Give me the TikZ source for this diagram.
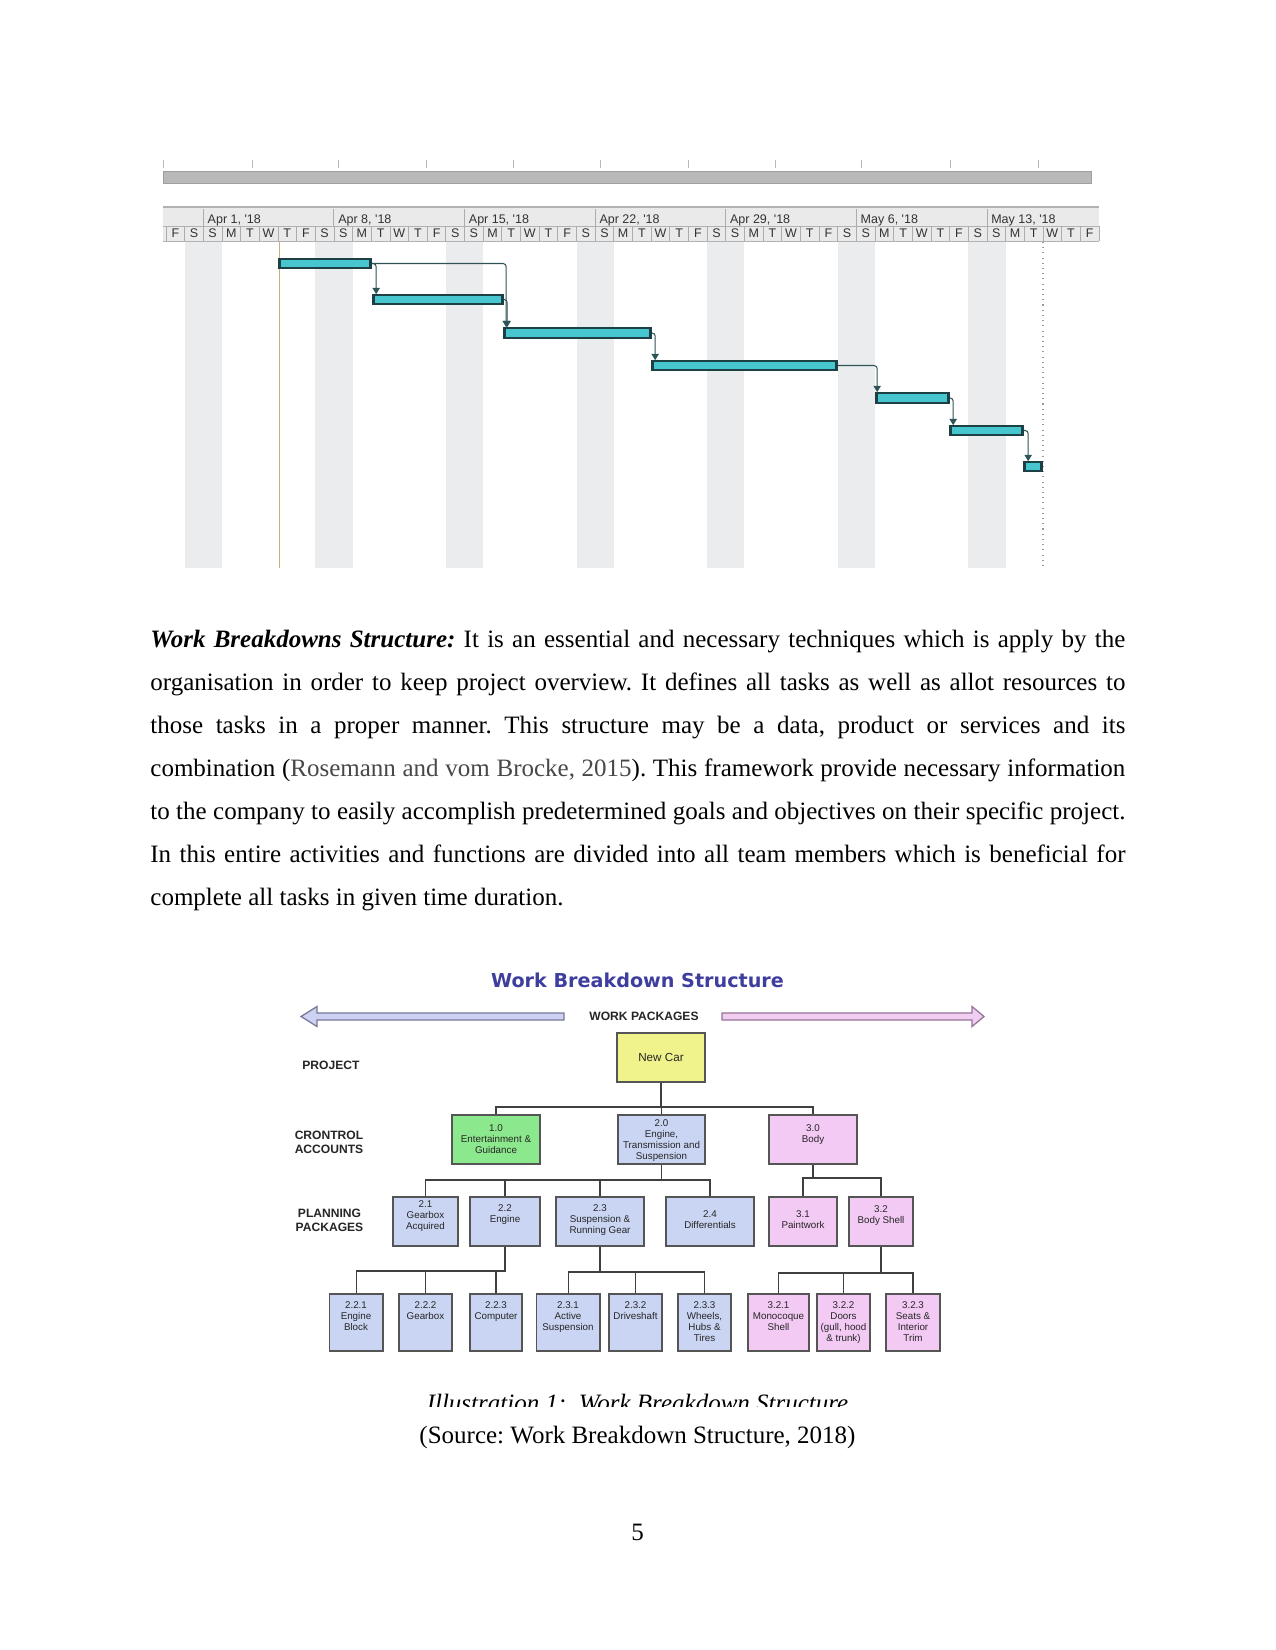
\documentclass[tikz,border=0pt]{standalone}
\usepackage{fontspec}
\setmainfont{Liberation Serif}
\newfontfamily\arialf{Liberation Sans}
\newfontfamily\verdf{DejaVu Sans}
\usetikzlibrary{fit,calc,arrows.meta}
\definecolor{barc}{RGB}{72,198,208}
\definecolor{bard}{RGB}{28,64,68}
\definecolor{gconnc}{RGB}{45,85,88}
\definecolor{stripec}{RGB}{234,236,238}
\definecolor{hdrc}{RGB}{234,234,234}
\definecolor{tanc}{RGB}{200,175,125}
\definecolor{titlec}{RGB}{62,62,158}
\definecolor{carc}{RGB}{240,243,140}
\definecolor{greenc}{RGB}{140,232,140}
\definecolor{bluec}{RGB}{201,213,242}
\definecolor{pinkc}{RGB}{242,202,244}
\definecolor{boxd}{RGB}{85,85,85}
\definecolor{lavc}{RGB}{205,210,242}
\definecolor{lavd}{RGB}{120,120,150}
\definecolor{pinkarr}{RGB}{242,205,242}
\definecolor{pinkd}{RGB}{150,115,150}
\definecolor{citec}{RGB}{72,72,72}
\frenchspacing
\begin{document}
\begin{tikzpicture}[x=0.48pt,y=-0.48pt,
  gbar/.style={draw=bard, line width=0.8pt, fill=barc, inner sep=0pt},
  gconn/.style={draw=gconnc, line width=0.5pt, rounded corners=1.5pt, -{Triangle[length=3pt,width=3.5pt]}},
  glbl/.style={font=\arialf\fontsize{6}{7}\selectfont, inner sep=0pt, text=black!80},
  wbox/.style={draw=boxd, line width=0.7pt, inner sep=0pt},
  wtxt/.style={font=\arialf\fontsize{4.7}{5.3}\selectfont, align=center, inner sep=0pt, anchor=north, text=black!85},
  wconn/.style={draw=black!75, line width=0.7pt},
  wlbl/.style={font=\arialf\bfseries\fontsize{5.8}{6.7}\selectfont, align=center, inner sep=0pt, text=black!85},
  para/.style={font=\fontsize{12}{20.7}\selectfont, inner sep=0pt, anchor=base west}]
\useasboundingbox (0,0) rectangle (1275,1650);
\fill[white] (0,0) rectangle (1275,1650);

% ---------------- Gantt chart ----------------
\foreach \x in {163,252,338,426,513,600,688,775,861,950,1038}
  \draw[gray!55, line width=0.4pt] (\x,160) -- (\x,168);
\fill[gray!55] (163,171) rectangle (1091,183);
\draw[gray!75, line width=0.4pt] (163,171) rectangle (1091,183);

\fill[hdrc] (163,208) rectangle (1099,241);
\draw[gray!60, line width=0.6pt] (163,207) -- (1099,207);
\draw[gray!60, line width=0.4pt] (163,226) -- (1099,226);
\draw[gray!60, line width=0.4pt] (163,241) -- (1099,241);
\foreach \i in {0,...,49}
  \draw[gray!65, line width=0.4pt] ({166+\i*18.66},226) -- ({166+\i*18.66},241);
\draw[gray!65, line width=0.4pt] (1099,226) -- (1099,241);
\foreach \d [count=\i from 0] in {F,S,S,M,T,W,T,F,S,S,M,T,W,T,F,S,S,M,T,W,T,F,S,S,M,T,W,T,F,S,S,M,T,W,T,F,S,S,M,T,W,T,F,S,S,M,T,W,T,F}
  \node[glbl] (dd\i) at ({166+(\i+0.5)*18.66},233.5) {\d};
\foreach \n in {0,...,6}
  \draw[gray!65, line width=0.4pt] ({203.3+\n*130.6},209) -- ({203.3+\n*130.6},226);
\foreach \lab [count=\n from 0] in {{Apr 1, '18},{Apr 8, '18},{Apr 15, '18},{Apr 22, '18},{Apr 29, '18},{May 6, '18},{May 13, '18}}
  \node[glbl, anchor=west] (dl\n) at ({203.3+\n*130.6+4},220.5) {\lab};

\foreach \k in {1,8,15,22,29,36,43}
  \fill[stripec] ({166+\k*18.66},242) rectangle ({166+(\k+2)*18.66},568);
\draw[tanc, line width=0.4pt] (279,242) -- (279,568);
\draw[gray!80, dotted, line width=0.5pt] (1043,242) -- (1043,568);

\node[gbar, fit={(279,259)(371,268)}] (g1) {};
\node[gbar, fit={(373,295)(503,304)}] (g2) {};
\node[gbar, fit={(504,328)(651,338)}] (g3) {};
\node[gbar, fit={(652,361)(837,370)}] (g4) {};
\node[gbar, fit={(876,393)(949,403)}] (g5) {};
\node[gbar, fit={(950,426)(1023,435)}] (g6) {};
\node[gbar, fit={(1024,462)(1042,471)}] (g7) {};
\foreach \g in {g1,g2,g3,g4,g5,g6,g7} {
  \fill[bard] (\g.north west) rectangle ($(\g.south west)+(3,0)$);
  \fill[bard] ($(\g.north east)+(-3,0)$) rectangle (\g.south east);
}
\draw[gconn] (g1.east) -| ($(g2.north west)+(4,0)$);
\draw[gconn] (g1.east) -| ($(g3.north west)+(3,0)$);
\draw[gconn] (g2.east) -| ($(g3.north west)+(4,0)$);
\draw[gconn] (g3.east) -| ($(g4.north west)+(4,0)$);
\draw[gconn] (g4.east) -| ($(g5.north west)+(2,0)$);
\draw[gconn] (g5.east) -| ($(g6.north west)+(4,0)$);
\draw[gconn] (g6.east) -| ($(g7.north west)+(5,0)$);

% ---------------- Paragraph ----------------
\node[para] (p1) at (150,647) {\hbox to 468pt{\textbf{\textit{Work Breakdowns Structure:}} It is an essential and necessary techniques which is apply by the}};
\node[para] (p2) at (150,690.1) {\hbox to 468pt{organisation in order to keep project overview. It defines all tasks as well as allot resources to}};
\node[para] (p3) at (150,733.2) {\hbox to 468pt{those tasks in a proper manner. This structure may be a data, product or services and its}};
\node[para] (p4) at (150,776.3) {\hbox to 468pt{combination ({\color{citec}Rosemann and vom Brocke, 2015}). This framework provide necessary information}};
\node[para] (p5) at (150,819.4) {\hbox to 468pt{to the company to easily accomplish predetermined goals and objectives on their specific project.}};
\node[para] (p6) at (150,862.5) {\hbox to 468pt{In this entire activities and functions are divided into all team members which is beneficial for}};
\node[para] (p7) at (150,905.6) {complete all tasks in given time duration.};

% ---------------- WBS ----------------
\node[font=\verdf\bfseries\fontsize{9.2}{11}\selectfont, text=titlec, inner sep=0pt] (title) at (637.5,980.5) {Work Breakdown Structure};
\draw[fill=lavc, draw=lavd, line width=0.6pt] (301,1016.5) -- (317,1006.5) -- (317,1013) -- (564,1013) -- (564,1020) -- (317,1020) -- (317,1026.5) -- cycle;
\draw[fill=pinkarr, draw=pinkd, line width=0.6pt] (722,1013) -- (972,1013) -- (972,1006.5) -- (984,1016.5) -- (972,1026.5) -- (972,1020) -- (722,1020) -- cycle;
\node[wlbl] (wp) at (644,1016.5) {WORK PACKAGES};
\node[wlbl, anchor=west] (lproj) at (302,1065) {PROJECT};
\node[wlbl] (lctrl) at (329,1142) {CRONTROL\\ACCOUNTS};
\node[wlbl] (lplan) at (329.5,1220) {PLANNING\\PACKAGES};

\node[wbox, fill=carc, fit={(617,1033)(705,1082)}] (car) {};
\node[wbox, fill=greenc, fit={(452,1115)(540,1164)}] (c10) {};
\node[wbox, fill=bluec, fit={(618,1115)(705,1164)}] (c20) {};
\node[wbox, fill=pinkc, fit={(769,1115)(857,1164)}] (c30) {};
\node[wbox, fill=bluec, fit={(393,1197)(458,1246)}] (c21) {};
\node[wbox, fill=bluec, fit={(470,1197)(540,1246)}] (c22) {};
\node[wbox, fill=bluec, fit={(556,1197)(644,1246)}] (c23) {};
\node[wbox, fill=bluec, fit={(666,1197)(754,1246)}] (c24) {};
\node[wbox, fill=pinkc, fit={(769,1197)(837,1246)}] (c31) {};
\node[wbox, fill=pinkc, fit={(849,1197)(913,1246)}] (c32) {};
\node[wbox, fill=bluec, fit={(329.5,1294)(383,1351)}] (c221) {};
\node[wbox, fill=bluec, fit={(399,1294)(452,1351)}] (c222) {};
\node[wbox, fill=bluec, fit={(470,1294)(522,1351)}] (c223) {};
\node[wbox, fill=bluec, fit={(536.5,1294)(600,1351)}] (c231) {};
\node[wbox, fill=bluec, fit={(609,1294)(662,1351)}] (c232) {};
\node[wbox, fill=bluec, fit={(678,1294)(731,1351)}] (c233) {};
\node[wbox, fill=pinkc, fit={(748,1294)(809,1351)}] (c321) {};
\node[wbox, fill=pinkc, fit={(817,1294)(870,1351)}] (c322) {};
\node[wbox, fill=pinkc, fit={(886,1294)(940,1351)}] (c323) {};

\node[wtxt, font=\arialf\fontsize{5.6}{6.5}\selectfont] (tcar) at (661,1053) {New Car};
\node[wtxt] (t10) at (496,1124) {1.0\\Entertainment \&\\Guidance};
\node[wtxt] (t20) at (661.5,1119) {2.0\\Engine,\\Transmission and\\Suspension};
\node[wtxt] (t30) at (813,1124) {3.0\\Body};
\node[wtxt] (t21) at (425.5,1200) {2.1\\Gearbox\\Acquired};
\node[wtxt] (t22) at (505,1204) {2.2\\Engine};
\node[wtxt] (t23) at (600,1204) {2.3\\Suspension \&\\Running Gear};
\node[wtxt] (t24) at (710,1210) {2.4\\Differentials};
\node[wtxt] (t31) at (803,1210) {3.1\\Paintwork};
\node[wtxt] (t32) at (881,1205) {3.2\\Body Shell};
\node[wtxt] (t221) at (356,1301) {2.2.1\\Engine\\Block};
\node[wtxt] (t222) at (425.5,1301) {2.2.2\\Gearbox};
\node[wtxt] (t223) at (496,1301) {2.2.3\\Computer};
\node[wtxt] (t231) at (568,1301) {2.3.1\\Active\\Suspension};
\node[wtxt] (t232) at (635.5,1301) {2.3.2\\Driveshaft};
\node[wtxt] (t233) at (704.5,1301) {2.3.3\\Wheels,\\Hubs \&\\Tires};
\node[wtxt] (t321) at (778.5,1301) {3.2.1\\Monocoque\\Shell};
\node[wtxt] (t322) at (843.5,1301) {3.2.2\\Doors\\(gull, hood\\\& trunk)};
\node[wtxt] (t323) at (913,1301) {3.2.3\\Seats \&\\Interior\\Trim};

\coordinate (bus0) at (0,1107);
\coordinate (bus1) at (0,1180);
\coordinate (bus1b) at (0,1178);
\coordinate (bus2) at (0,1271);
\coordinate (bus2b) at (0,1272);
\coordinate (bus2c) at (0,1273);
\draw[wconn] (car.south) -- (car.south |- bus0);
\draw[wconn] (c10.north) |- (c30.north |- bus0) -- (c30.north);
\draw[wconn] (c20.north) -- (c20.north |- bus0);
\draw[wconn] (c20.south) -- (c20.south |- bus1);
\draw[wconn] (c21.north) |- (c24.north |- bus1) -- (c24.north);
\draw[wconn] (c22.north) -- (c22.north |- bus1);
\draw[wconn] (c23.north) -- (c23.north |- bus1);
\draw[wconn] (c30.south) -- (c30.south |- bus1b);
\draw[wconn] (c31.north) |- (c32.north |- bus1b) -- (c32.north);
\draw[wconn] (c22.south) |- (c221.north |- bus2) -- (c221.north);
\draw[wconn] (c222.north) -- (c222.north |- bus2);
\draw[wconn] (c223.north) -- (c223.north |- bus2);
\draw[wconn] (c23.south) -- (c23.south |- bus2b);
\draw[wconn] (c231.north) |- (c233.north |- bus2b) -- (c233.north);
\draw[wconn] (c232.north) -- (c232.north |- bus2b);
\draw[wconn] (c32.south) -- (c32.south |- bus2c);
\draw[wconn] (c321.north) |- (c323.north |- bus2c) -- (c323.north);
\draw[wconn] (c322.north) -- (c322.north |- bus2c);

% ---------------- Captions ----------------
\begin{scope}
  \clip (380,1380) rectangle (900,1406);
  \node[anchor=base, inner sep=0pt, font=\fontsize{12}{14}\selectfont\itshape] (cap) at (637.5,1411) {Illustration 1:\ \ Work Breakdown Structure};
\end{scope}
\node[anchor=base, inner sep=0pt, font=\fontsize{12}{14}\selectfont] (src) at (637.5,1443) {(Source: Work Breakdown Structure, 2018)};
\node[anchor=base, inner sep=0pt, font=\fontsize{12}{14}\selectfont] (pg) at (637.5,1540) {5};
\end{tikzpicture}
\end{document}
